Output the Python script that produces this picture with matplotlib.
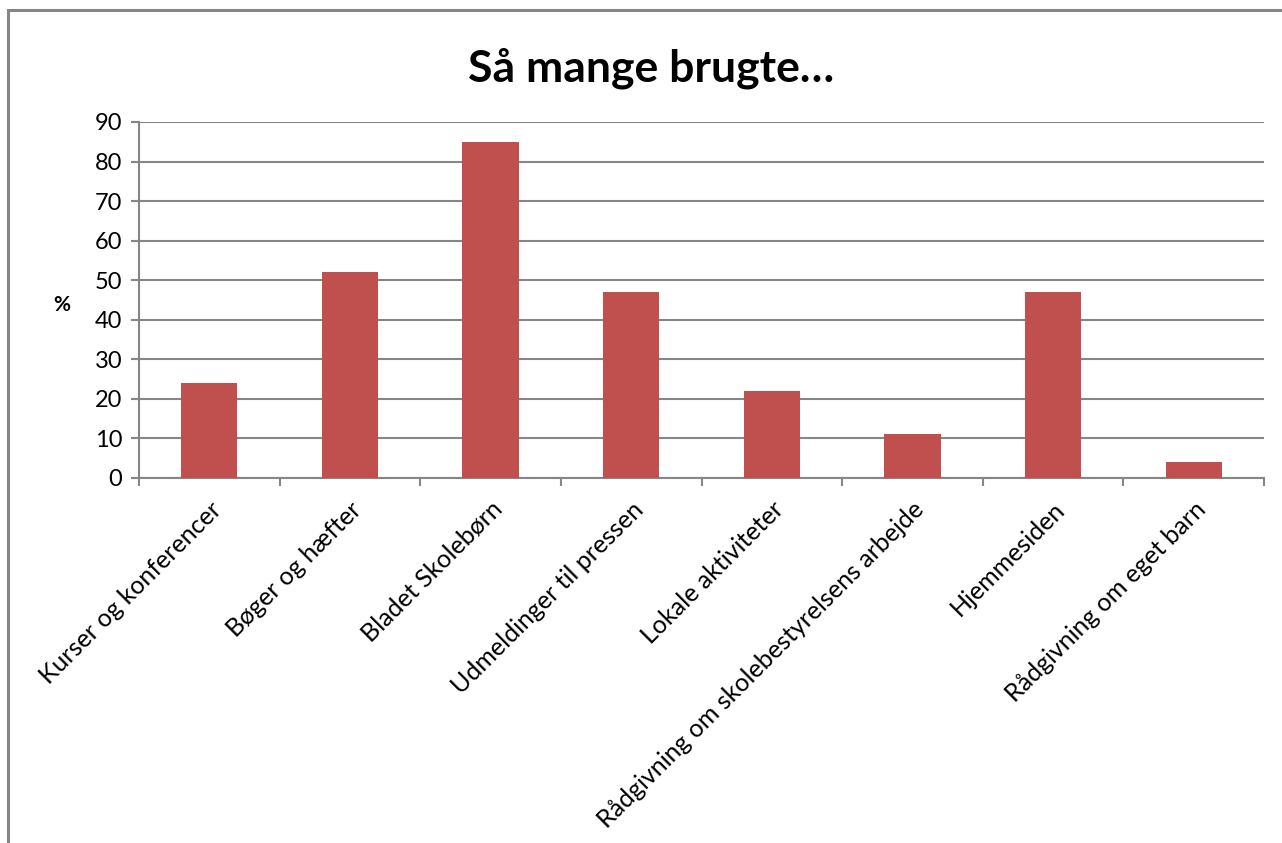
import numpy as np
import matplotlib.pyplot as plt
from matplotlib.patches import Rectangle

categories = ["Kurser og konferencer", "Bøger og hæfter", "Bladet Skolebørn",
              "Udmeldinger til pressen", "Lokale aktiviteter",
              "Rådgivning om skolebestyrelsens arbejde", "Hjemmesiden",
              "Rådgivning om eget barn"]
values = [24, 52, 85, 47, 22, 11, 47, 4]
yticks = [0, 10, 20, 30, 40, 50, 60, 70, 80, 90]

plt.rcParams['font.family'] = ['Lato', 'DejaVu Sans']
grey = "#868686"

fig = plt.figure(figsize=(12.82, 8.43), dpi=100)
ax = fig.add_axes([139 / 1282, 1 - 478 / 843, (1264 - 139) / 1282, (478 - 122) / 843])

# chart frame (cut off at right and bottom)
fig.patches.append(Rectangle((8 / 1282, -0.1), 1.2, 1 - 10 / 843 + 0.1,
                             transform=fig.transFigure, fill=False,
                             edgecolor=grey, linewidth=2.2))

x = np.arange(len(categories))
ax.bar(x, values, width=0.4, color="#C0504D", zorder=3)

ax.set_xlim(-0.5, len(categories) - 0.5)
ax.set_ylim(0, 90)
ax.set_yticks(yticks)
ax.yaxis.grid(True, color=grey, linewidth=1.5, zorder=0)
ax.tick_params(axis='y', length=6, width=1.5, color=grey, labelsize=17, pad=6)

ax.set_xticks(np.arange(len(categories) + 1) - 0.5)
ax.set_xticklabels([])
ax.set_xticks(x, minor=True)
ax.set_xticklabels(categories, minor=True, rotation=45, ha='right',
                   rotation_mode='anchor', fontsize=18)
ax.tick_params(axis='x', which='major', length=6, width=1.5, color=grey)
ax.tick_params(axis='x', which='minor', length=0, pad=14)

for s in ['top', 'right']:
    ax.spines[s].set_visible(False)
for s in ['left', 'bottom']:
    ax.spines[s].set_color(grey)
    ax.spines[s].set_linewidth(1.5)

fig.text(62 / 1282, 1 - 305 / 843, "%", fontsize=15, fontweight='bold',
         ha='center', va='center')
fig.text(651 / 1282, 1 - 68 / 843, "Så mange brugte…", fontsize=32,
         fontweight='bold', ha='center', va='center')

fig.savefig("out.png", dpi=100)
